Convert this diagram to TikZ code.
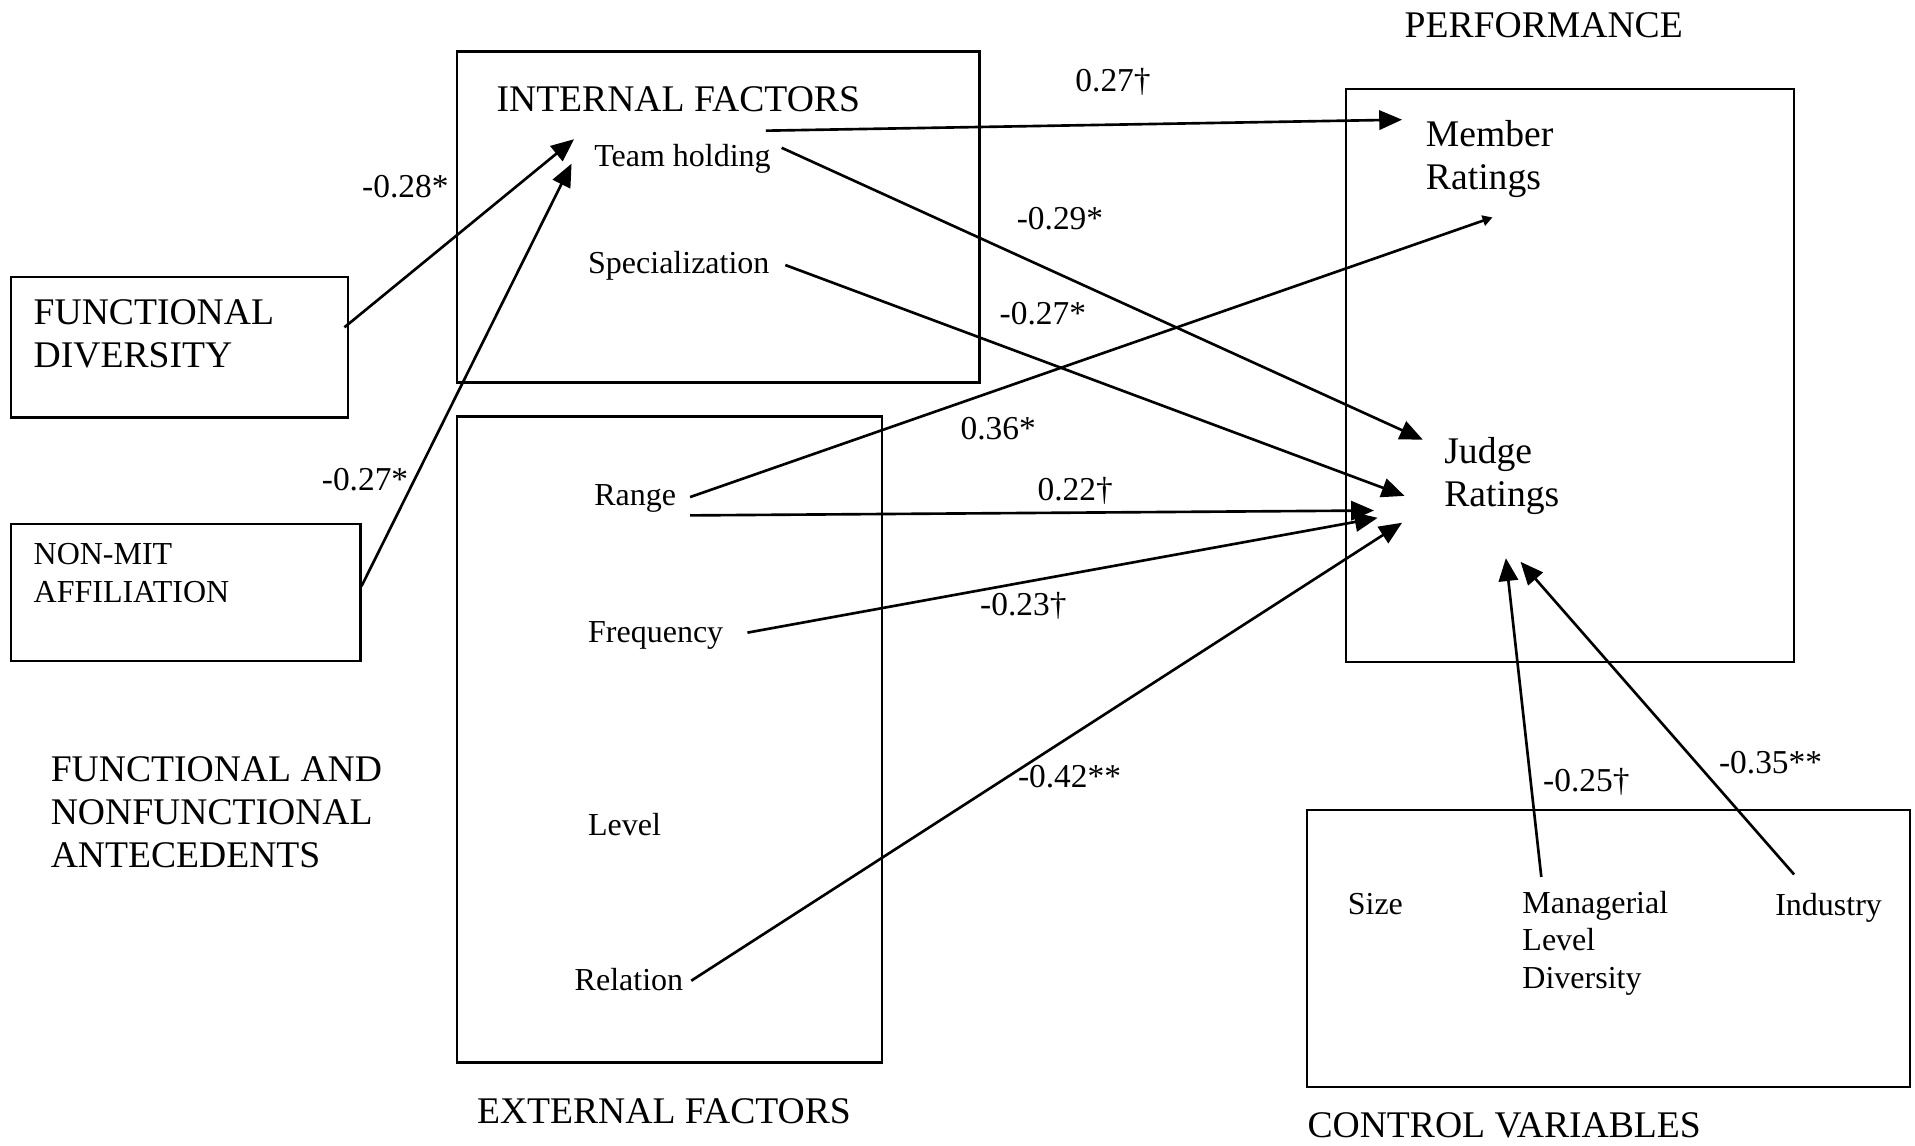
\documentclass[tikz,border=0pt]{standalone}
\usepackage{fontspec}
\setmainfont{Liberation Serif}
\usetikzlibrary{arrows.meta}
\newcommand{\bigtxt}{\fontsize{10.7}{12.2}\selectfont}
\newcommand{\smalltxt}{\fontsize{9.1}{10.6}\selectfont}
\newcommand{\coeftxt}{\fontsize{9.5}{11}\selectfont}
\begin{document}
\begin{tikzpicture}[x=0.012213cm,y=-0.012213cm,
  box/.style={draw,line width=0.7pt},
  big/.style={inner sep=0pt,anchor=base west,align=left,font=\bigtxt},
  small/.style={inner sep=0pt,anchor=base west,align=left,font=\smalltxt},
  coef/.style={inner sep=0pt,anchor=base west,font=\coeftxt},
  path/.style={line width=0.75pt,-{Triangle[length=6.5pt,width=5.5pt]}},
  thinpath/.style={line width=0.75pt,-{Triangle[length=2.8pt,width=3pt]}}]
\useasboundingbox (0,0) rectangle (1568,938);

% boxes
\draw[box] (9,227) rectangle (285,342);
\draw[box] (9,429) rectangle (295,541);
\draw[box] (374,42) rectangle (802,313);
\draw[box] (374,341) rectangle (722,870);
\draw[box] (1102,73) rectangle (1469,542);
\draw[box] (1070,663) rectangle (1564,890);

% headings (multi-line nodes are placed by the baseline of their last line)
\node[big,anchor=base] (perf) at (1264,31) {PERFORMANCE};
\node[big] (internal) at (406,91) {INTERNAL FACTORS};
\node[big] (external) at (390,920) {EXTERNAL FACTORS};
\node[big] (control) at (1070,931) {CONTROL VARIABLES};
\node[big] (antec) at (41,710) {FUNCTIONAL AND\\NONFUNCTIONAL\\ANTECEDENTS};

% variables
\node[big] (fd) at (27,301) {FUNCTIONAL\\DIVERSITY};
\node[small] (nm) at (27,493) {NON-MIT\\AFFILIATION};
\node[small] (team) at (486,136) {Team holding};
\node[small] (spec) at (481,224) {Specialization};
\node[small] (range) at (486,414) {Range};
\node[small] (freq) at (481,526) {Frequency};
\node[small] (level) at (481,684) {Level};
\node[small] (relation) at (470,811) {Relation};
\node[big] (member) at (1167,155) {Member\\Ratings};
\node[big] (judge) at (1182,415) {Judge\\Ratings};
\node[small] (size) at (1103,749) {Size};
\node[small] (mld) at (1246,809) {Managerial\\Level\\Diversity};
\node[small] (industry) at (1453,750) {Industry};

% connector ends
\coordinate (internal-out) at (627,107);
\coordinate (member-in) at (1148,98);
\coordinate (team-out) at (640,121);
\coordinate (judge-in1) at (1165,360);
\coordinate (spec-out) at (643,217);
\coordinate (judge-in2) at (1150,406);
\coordinate (range-out1) at (565,407);
\coordinate (member-in2) at (1222,178);
\coordinate (range-out2) at (565,422);
\coordinate (judge-in3) at (1125,418);
\coordinate (freq-out) at (612,518);
\coordinate (judge-in4) at (1128,424);
\coordinate (relation-out) at (566,803);
\coordinate (judge-in5) at (1148,428);
\coordinate (fd-out) at (282,268);
\coordinate (team-in1) at (470,114);
\coordinate (nm-out) at (296,480);
\coordinate (team-in2) at (468,134);
\coordinate (mld-out) at (1262,718);
\coordinate (judge-in6) at (1233,457);
\coordinate (industry-out) at (1469,716);
\coordinate (judge-in7) at (1245,460);

% paths
\draw[path] (internal-out) -- (member-in);
\draw[path] (team-out) -- (judge-in1);
\draw[path] (spec-out) -- (judge-in2);
\draw[thinpath] (range-out1) -- (member-in2);
\draw[path] (range-out2) -- (judge-in3);
\draw[path] (freq-out) -- (judge-in4);
\draw[path] (relation-out) -- (judge-in5);
\draw[path] (fd-out) -- (team-in1);
\draw[path] (nm-out) -- (team-in2);
\draw[path] (mld-out) -- (judge-in6);
\draw[path] (industry-out) -- (judge-in7);

% coefficients
\node[coef] (c1) at (880,75) {0.27\dag};
\node[coef] (c2) at (296,162) {-0.28*};
\node[coef] (c3) at (263,402) {-0.27*};
\node[coef] (c4) at (832,188) {-0.29*};
\node[coef] (c5) at (818,266) {-0.27*};
\node[coef] (c6) at (786,360) {0.36*};
\node[coef] (c7) at (849,410) {0.22\dag};
\node[coef] (c8) at (802,504) {-0.23\dag};
\node[coef] (c9) at (833,645) {-0.42**};
\node[coef] (c10) at (1263,648) {-0.25\dag};
\node[coef] (c11) at (1407,633) {-0.35**};
\end{tikzpicture}
\end{document}
